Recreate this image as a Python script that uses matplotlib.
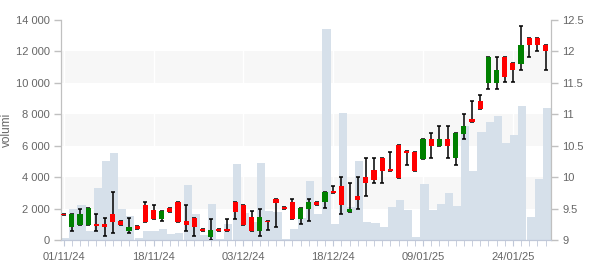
import matplotlib
matplotlib.use("Agg")
import matplotlib.pyplot as plt
import numpy as np

# candle bodies (top/bottom of body), wick ends, colour flag (1 = green, 0 = red)
body_top = [9.42, 9.41, 9.41, 9.51, 9.26, 9.26, 9.41, 9.30, 9.21, 9.22,
            9.55, 9.47, 9.46, 9.51, 9.60, 9.30, 9.35, 9.17, 9.16, 9.17,
            9.17, 9.60, 9.56, 9.36, 9.36, 9.31, 9.65, 9.52, 9.60, 9.51,
            9.60, 9.60, 9.76, 9.78, 9.86, 9.50, 9.70, 10.00, 10.11, 10.30,
            10.13, 10.51, 10.41, 10.40, 10.61, 10.61, 10.60, 10.60, 10.70, 10.81,
            10.92, 11.21, 11.91, 11.70, 11.91, 11.81, 12.10, 12.21, 12.21, 12.10]
body_bot = [9.39, 9.20, 9.24, 9.24, 9.23, 9.20, 9.29, 9.24, 9.15, 9.18,
            9.29, 9.34, 9.34, 9.45, 9.29, 9.24, 9.20, 9.14, 9.05, 9.14,
            9.14, 9.45, 9.24, 9.15, 9.15, 9.28, 9.59, 9.49, 9.34, 9.34,
            9.50, 9.55, 9.60, 9.74, 9.55, 9.45, 9.64, 9.90, 9.95, 10.10,
            10.09, 9.99, 10.38, 10.10, 10.29, 10.50, 10.50, 10.50, 10.30, 10.69,
            10.88, 11.09, 11.50, 11.50, 11.60, 11.70, 11.80, 12.10, 12.10, 12.00]
highs = [9.42, 9.41, 9.50, 9.51, 9.41, 9.35, 9.76, 9.30, 9.35, 9.22,
         9.60, 9.55, 9.46, 9.51, 9.60, 9.55, 9.35, 9.17, 9.34, 9.17,
         9.34, 9.60, 9.56, 9.46, 9.50, 9.31, 9.65, 9.52, 9.65, 9.51,
         9.65, 9.60, 9.76, 9.86, 10.00, 9.90, 10.00, 10.30, 10.30, 10.30,
         10.40, 10.51, 10.41, 10.40, 10.61, 10.70, 10.81, 10.81, 10.70, 11.00,
         11.21, 11.30, 11.91, 11.91, 11.91, 11.81, 12.40, 12.21, 12.21, 12.10]
lows = [9.39, 9.15, 9.24, 9.24, 9.15, 9.06, 9.11, 9.24, 9.11, 9.18,
        9.29, 9.34, 9.30, 9.45, 9.29, 9.15, 9.06, 9.14, 9.00, 9.14,
        9.14, 9.34, 9.24, 9.15, 9.06, 9.16, 9.20, 9.49, 9.34, 9.25,
        9.30, 9.55, 9.51, 9.74, 9.41, 9.45, 9.50, 9.70, 9.90, 9.90,
        10.09, 9.99, 10.20, 10.10, 10.29, 10.30, 10.50, 10.30, 10.20, 10.60,
        10.88, 11.09, 11.40, 11.40, 11.51, 11.51, 11.70, 11.91, 12.01, 11.70]
is_up = [0, 1, 1, 1, 0, 0, 0, 0, 1, 0,
         0, 0, 1, 0, 0, 0, 0, 0, 1, 0,
         0, 0, 0, 0, 1, 0, 0, 0, 0, 1,
         1, 0, 1, 0, 0, 1, 0, 0, 0, 0,
         0, 0, 0, 0, 1, 0, 1, 0, 1, 1,
         0, 0, 1, 1, 0, 0, 1, 0, 0, 0]
volumes = [130, 2000, 2220, 600, 3330, 5030, 5560, 1990, 1530, 100,
           560, 590, 720, 400, 465, 3500, 1655, 340, 2290, 85,
           990, 4850, 1720, 1150, 4900, 1850, 1800, 60, 700, 1400,
           3750, 1650, 13400, 1020, 8060, 2100, 5030, 1160, 1100, 830,
           2120, 2545, 1909, 190, 3564, 1909, 2290, 2990, 2164, 7255,
           4412, 6892, 7510, 7890, 6193, 6682, 8548, 1475, 3882, 8421]
label_idx = [0, 11, 22, 33, 44, 55]
label_txt = ["01/11/24", "18/11/24", "03/12/24", "18/12/24", "09/01/25", "24/01/25"]

plt.rcParams['font.family'] = ['Liberation Sans', 'DejaVu Sans']
txt_col = '#666666'
n = len(volumes)
x = np.arange(n)
xc = x - 0.17  # candles sit a little left of the volume columns

fig = plt.figure(figsize=(6, 2.7), dpi=100)
ax = fig.add_axes([61 / 600, 30 / 270, 490 / 600, 220 / 270])
ax2 = ax.twinx()

# alternating bands
for lo in (2000, 6000, 10000):
    ax.axhspan(lo, lo + 2000, color='#f7f7f7', zorder=0, lw=0)
for i in label_idx:
    ax.axvline(xc[i], color='#ffffff', lw=1, zorder=0.5)

ax.bar(x, volumes, width=1.0, color='#d6e0ea', zorder=1, lw=0)
ax.set_xlim(-0.5, n - 0.5)
ax.set_ylim(0, 14000)
ax.set_yticks(np.arange(0, 14001, 2000))
ax.set_yticklabels([f"{v:,}".replace(",", " ") for v in range(0, 14001, 2000)])
ax.set_ylabel('volumi', color=txt_col, fontsize=8.5)
ax.yaxis.set_label_coords(-0.098, 0.5)

# candles
colors = ['#008000' if u else '#ff0000' for u in is_up]
ax2.errorbar(xc, [(h + l) / 2 for h, l in zip(highs, lows)],
             yerr=[(h - l) / 2 for h, l in zip(highs, lows)],
             fmt='none', ecolor='black', elinewidth=1.1, capsize=1.6, capthick=1.1, zorder=2)
ax2.bar(xc, [t - b for t, b in zip(body_top, body_bot)], bottom=body_bot,
        width=0.62, color=colors, lw=0, zorder=3)
ax2.set_ylim(9, 12.5)
ax2.set_yticks(np.arange(9, 12.51, 0.5))
ax2.set_yticklabels(['9', '9.5', '10', '10.5', '11', '11.5', '12', '12.5'])

ax.set_xticks(xc[label_idx])
ax.set_xticklabels(label_txt)
ax.set_xticks(xc, minor=True)

for a in (ax, ax2):
    a.spines['top'].set_visible(False)
    a.spines['left'].set_color('#c0c0c0')
    a.spines['right'].set_color('#c0c0c0')
    a.spines['bottom'].set_color('#c0c8d8')
    a.tick_params(axis='y', colors='#c0c0c0', labelcolor=txt_col, labelsize=8, length=5, width=1, pad=3)
ax.tick_params(axis='x', which='both', colors='#c0c8d8', labelcolor=txt_col, labelsize=8, length=4, pad=5)
ax2.set_zorder(ax.get_zorder() + 1)
ax2.patch.set_visible(False)

fig.savefig('out.png', dpi=100, facecolor='white')
